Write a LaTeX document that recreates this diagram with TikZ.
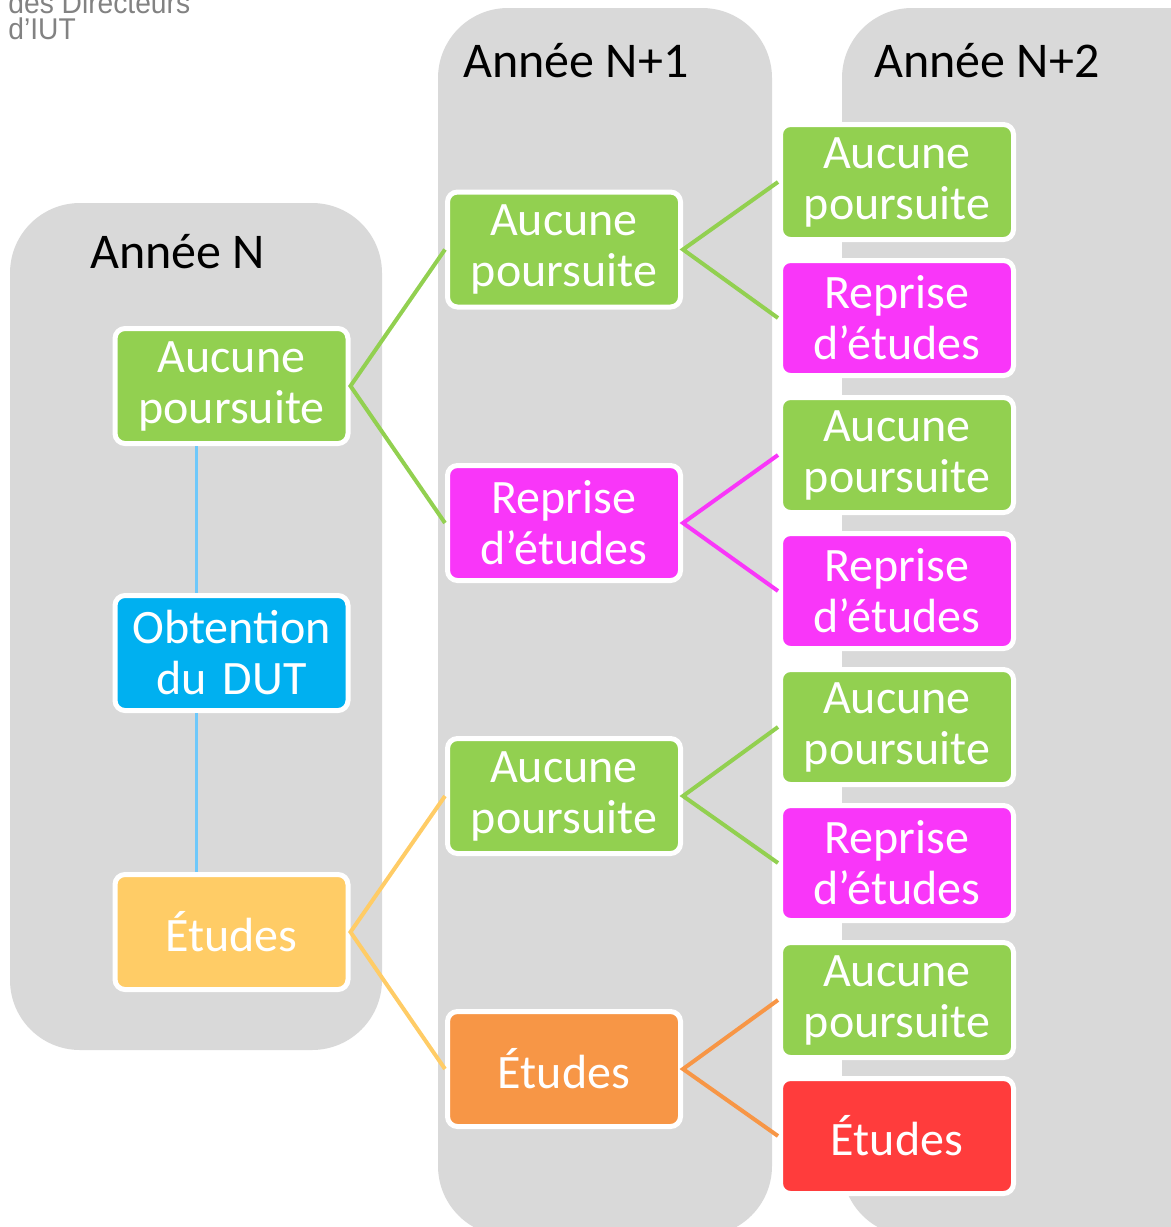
\documentclass[tikz,border=0pt]{standalone}
\usepackage{fontspec}
\setmainfont{Carlito}
\newfontfamily\logofont[FakeStretch=0.94]{Liberation Sans}

\definecolor{gris}{RGB}{217,217,217}
\definecolor{grislogo}{RGB}{130,130,130}
\definecolor{cvert}{RGB}{146,208,80}
\definecolor{crose}{RGB}{249,54,249}
\definecolor{cbleu}{RGB}{0,176,240}
\definecolor{bleuclair}{RGB}{110,200,250}
\definecolor{cjaune}{RGB}{255,204,102}
\definecolor{corange}{RGB}{247,150,70}
\definecolor{crouge}{RGB}{255,60,60}

\tikzset{
  panneau/.style={fill=gris, rounded corners=35pt},
  boite/.style={draw=white, line width=2.5pt, rounded corners=5pt,
    minimum width=116.5pt, minimum height=57.5pt, text width=110pt,
    align=center, text=white, inner sep=0pt,
    font=\fontsize{24}{25.5}\selectfont},
  titre/.style={anchor=base west, inner sep=0pt,
    font=\fontsize{25}{30}\selectfont},
  logo/.style={anchor=base west, inner sep=0pt, text=grislogo,
    font=\logofont\fontsize{15}{13}\selectfont},
  lien/.style={line width=2pt},
}

\begin{document}
\begin{tikzpicture}[x=0.5pt, y=-0.5pt]
    \useasboundingbox (0,0) rectangle (1171,1227);
    \clip (0,0) rectangle (1171,1227);

    % Panneaux gris
    \fill[panneau] (10,203) rectangle (382,1050);
    \fill[panneau] (438,8) rectangle (772,1236);
    \fill[panneau] (842,8) rectangle (1240,1236);

    % Titres
    \node[titre] (tN)  at (90,268) {Année N};
    \node[titre] (tN1) at (463,77) {Année N+1};
    \node[titre] (tN2) at (874,77) {Année N+2};

    % Logo coupé
    \node[logo] (logo1) at (8,13) {des Directeurs};
    \node[logo] (logo2) at (8,39) {d’IUT};

    % Colonne N
    \node[boite, fill=cvert]  (a1) at (231.5,386) {Aucune poursuite};
    \node[boite, fill=cbleu]  (a2) at (231.5,653) {Obtention du DUT};
    \node[boite, fill=cjaune] (a3) at (231.5,932) {Études};

    % Colonne N+1
    \node[boite, fill=cvert]   (b1) at (564,249.5) {Aucune poursuite};
    \node[boite, fill=crose]   (b2) at (564,523)   {Reprise d’études};
    \node[boite, fill=cvert]   (b3) at (564,796)   {Aucune poursuite};
    \node[boite, fill=corange] (b4) at (564,1069)  {Études};

    % Colonne N+2
    \foreach \i/\y in {1/182, 3/455, 5/727, 7/1000}
        \node[boite, fill=cvert] (c\i) at (897,\y) {Aucune poursuite};
    \foreach \i/\y in {2/318, 4/591, 6/863}
        \node[boite, fill=crose] (c\i) at (897,\y) {Reprise d’études};
    \node[boite, fill=crouge] (c8) at (897,1136) {Études};

    % Liens
    \draw[lien, bleuclair, line width=1.5pt]
        ([xshift=-17.75pt]a1.south) -- ([xshift=-17.75pt]a2.north)
        ([xshift=-17.75pt]a2.south) -- ([xshift=-17.75pt]a3.north);
    \draw[lien, cvert]  (b1.west) -- (a1.east) -- (b2.west);
    \draw[lien, cjaune] (b3.west) -- (a3.east) -- (b4.west);
    \foreach \p/\u/\v/\c in {b1/c1/c2/cvert, b2/c3/c4/crose, b3/c5/c6/cvert, b4/c7/c8/corange}
        \draw[lien, \c] (\u.west) -- (\p.east) -- (\v.west);
\end{tikzpicture}
\end{document}
